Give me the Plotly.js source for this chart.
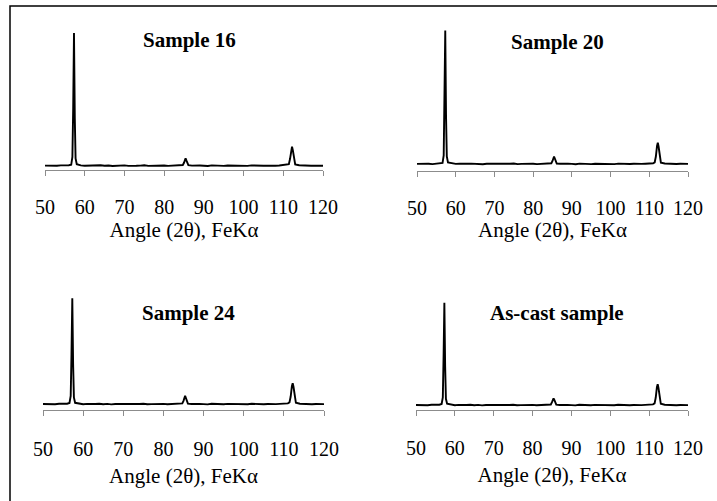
<!DOCTYPE html>
<html>
<head>
<meta charset="utf-8">
<script src="https://cdn.plot.ly/plotly-3.0.1.min.js"></script>
<style>html,body{margin:0;padding:0;background:#fff;}#chart{width:717px;height:501px;}</style>
</head>
<body>
<div id="chart"></div>
<script>
// 2θ positions (degrees, FeKα)
const twoTheta = [50,51,52,53,54,55,56,
  56.6,56.9,57.1,57.3,57.5,57.7,58.0,
  59,60,61,62,63,64,65,66,67,68,69,70,71,72,73,74,75,76,77,78,79,80,81,82,83,84,
  84.7,85.0,85.2,85.4,85.6,85.8,86.1,
  87,88,89,90,91,92,93,94,95,96,97,98,99,100,101,102,103,104,105,106,107,108,109,110,111,
  111.4,111.7,112.0,112.2,112.4,112.7,113.0,
  114,115,116,117,118,119,120];

// intensities (arbitrary units)
const sample16 = [44,41,45,42,46,43,47,
  52,130,620,1370,520,115,58,
  46,42,45,41,44,47,42,45,40,44,43,46,41,45,42,44,47,41,43,46,42,45,41,44,46,43,
  50,72,102,117,96,66,49,
  44,41,45,43,40,46,42,44,41,45,43,47,42,44,41,46,43,45,42,44,47,43,45,48,50,
  58,112,205,233,198,102,56,
  47,43,45,42,44,41,43];

const sample20 = [66,69,65,68,64,67,70,
  76,150,650,1400,540,140,80,
  70,66,68,64,67,69,65,68,63,67,66,69,64,68,65,67,70,64,66,69,65,68,64,67,69,66,
  72,95,125,140,120,90,70,
  67,64,68,66,63,69,65,67,64,68,66,70,65,67,64,69,66,68,65,67,70,66,68,71,73,
  82,140,245,277,240,130,78,
  70,66,68,65,67,64,66];

const sample24 = [60,57,61,58,62,59,63,
  70,140,560,1117,460,125,72,
  62,58,61,57,60,63,58,61,56,60,59,62,57,61,58,60,63,57,59,62,58,61,57,60,62,59,
  66,92,128,143,120,85,64,
  60,57,61,59,56,62,58,60,57,61,59,63,58,60,57,62,59,61,58,60,63,59,61,64,66,
  76,135,238,267,232,125,72,
  63,59,61,58,60,57,59];

const sampleAsCast = [50,47,51,48,52,49,53,
  60,125,540,1073,440,112,62,
  52,48,51,47,50,53,48,51,46,50,49,52,47,51,48,50,53,47,49,52,48,51,47,50,52,49,
  55,78,105,117,100,72,54,
  50,47,51,49,46,52,48,50,47,51,49,53,48,50,47,52,49,51,48,50,53,49,51,54,56,
  66,125,228,257,222,115,62,
  53,49,51,48,50,47,49];

const panelTitles = ["Sample 16", "Sample 20", "Sample 24", "As-cast sample"];
const series = [sample16, sample20, sample24, sampleAsCast];
const xTitle = "Angle (2θ), FeKα";
const tickValues = [50,60,70,80,90,100,110,120];

const FONT = '"Liberation Serif", "Times New Roman", serif';
const W = 717, H = 501;

const axisKeys = [["x","y"],["x2","y2"],["x3","y3"],["x4","y4"]];
// pixel geometry per panel: [left, right, axisY, topY, labelStandoff, titleStandoff]
const geo = [[45,323,170,20,14,2],[417,688,170.5,20.5,14,2],[43,324,410,260,16,9],[416,688,410,260,15,9]];
const titlePos = [[189,40],[557,42],[188,313],[557,313]];

const traces = series.map((s,i)=>({
  x: twoTheta, y: s, type: 'scatter', mode: 'lines',
  xaxis: axisKeys[i][0], yaxis: axisKeys[i][1],
  line: {color: '#000', width: 1.9}, hoverinfo: 'skip', showlegend: false
}));

const layout = {
  width: W, height: H,
  margin: {l:0, r:0, t:0, b:0},
  paper_bgcolor: '#fff', plot_bgcolor: 'rgba(0,0,0,0)',
  font: {family: FONT, color: '#000'},
  showlegend: false,
  annotations: [],
  shapes: [{
    type: 'rect', xref: 'paper', yref: 'paper',
    x0: 10/W, x1: 1.02, y0: 1 - 6/H, y1: -0.02,
    line: {color: '#000', width: 1.5}, fillcolor: 'rgba(0,0,0,0)'
  }]
};

geo.forEach((g,i)=>{
  const xa = i===0 ? 'xaxis' : 'xaxis'+(i+1);
  const ya = i===0 ? 'yaxis' : 'yaxis'+(i+1);
  layout[xa] = {
    domain: [g[0]/W, g[1]/W], anchor: axisKeys[i][1],
    range: [50,120], tickvals: tickValues, ticktext: tickValues.map(String),
    ticks: 'outside', ticklen: 5, tickwidth: 1, tickcolor: '#8c8c8c',
    showline: true, linecolor: '#8c8c8c', linewidth: 1,
    showgrid: false, zeroline: false,
    tickfont: {family: FONT, size: 20, color: '#000'},
    ticklabelstandoff: g[4],
    title: {text: xTitle, font: {family: FONT, size: 21, color: '#000'}, standoff: g[5]}
  };
  layout[ya] = {
    domain: [1 - g[2]/H, 1 - g[3]/H], anchor: axisKeys[i][0],
    range: [0,1500], visible: false, showgrid: false, zeroline: false
  };
  layout.annotations.push({
    text: '<b>' + panelTitles[i] + '</b>', xref: 'paper', yref: 'paper',
    x: titlePos[i][0]/W, y: 1 - titlePos[i][1]/H, xanchor: 'center', yanchor: 'middle',
    showarrow: false, font: {family: FONT, size: 21, color: '#000'}
  });
});

Plotly.newPlot('chart', traces, layout, {staticPlot: true, displayModeBar: false});
</script>
</body>
</html>
